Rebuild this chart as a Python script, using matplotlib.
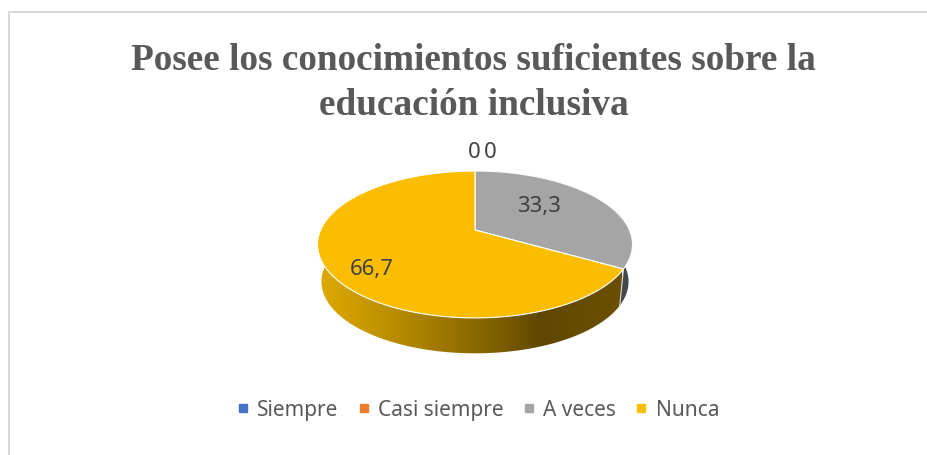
import numpy as np
import matplotlib
matplotlib.use("Agg")
import matplotlib.pyplot as plt
from matplotlib.colors import LinearSegmentedColormap
from matplotlib.lines import Line2D
from matplotlib.patches import Polygon

titulo = "Posee los conocimientos suficientes sobre la\neducación inclusiva"
categorias = ["Siempre", "Casi siempre", "A veces", "Nunca"]
valores = [0, 0, 33.3, 66.7]
colores = ["#4472C4", "#ED7D31", "#A5A5A5", "#FBBD00"]
# lateral del pastel, de izquierda a derecha
lateral_nunca = [(0, "#DDA900"), (0.27, "#B58A00"), (0.6, "#7C5E00"), (0.73, "#5F4700"), (1, "#6B5000")]
lateral_aveces = "#43464B"

# geometria en pixeles de la imagen
cx, cy = 475, 231
ancho, alto, persp = 154.4, 70.6, 0.197
caida, escala = 37.6, 0.975


def borde(theta, abajo=False):
    # theta en grados, sentido horario desde arriba
    t = np.radians(theta)
    d = 1 + persp * np.cos(t)
    x = ancho * np.sin(t) / d
    y = -alto * np.cos(t) / d
    if abajo:
        return cx + escala * x, cy + escala * y + caida
    return cx + x, cy + y


fig = plt.figure(figsize=(9.27, 4.56), dpi=100)
ax = fig.add_axes([0, 0, 1, 1])
ax.axis("off")

limites = np.cumsum([0] + valores) / sum(valores) * 360
ini_nunca, fin_nunca = limites[3], limites[4]

# paredes laterales
arco = np.linspace(ini_nunca, fin_nunca, 200)
xa, ya = borde(arco)
xb, yb = borde(arco, abajo=True)
pared = Polygon(np.r_[np.c_[xa, ya], np.c_[xb, yb][::-1]], closed=True, fc="none", ec="none")
ax.add_patch(pared)
mapa = LinearSegmentedColormap.from_list("lateral", lateral_nunca)
img = ax.imshow(np.linspace(0, 1, 400)[None, :], cmap=mapa, aspect="auto",
                extent=(320, 622, 360, 240), zorder=1)
img.set_clip_path(pared)

arco = np.linspace(limites[2], limites[3], 60)
xa, ya = borde(arco)
xb, yb = borde(arco, abajo=True)
ax.fill(np.r_[xa, xb[::-1]], np.r_[ya, yb[::-1]], color=lateral_aveces, lw=0, zorder=1.5)
x0, y0 = borde(ini_nunca)
x1, y1 = borde(ini_nunca, abajo=True)
ax.plot([x0, x1], [y0, y1], color="#D9D9D9", lw=0.8, zorder=1.6)

# cara superior
for i, color in enumerate(colores):
    if valores[i] == 0:
        continue
    arco = np.linspace(limites[i], limites[i + 1], 200)
    xa, ya = borde(arco)
    ax.fill(np.r_[cx, xa], np.r_[cy, ya], fc=color, ec="white", lw=0.8, zorder=2)

# etiquetas de datos
etiquetas = [(474, 153), (490, 153), (539, 207), (372, 270)]
for v, (ex, ey) in zip(valores, etiquetas):
    ax.text(ex, ey, f"{v:g}".replace(".", ","), ha="center", va="center",
            fontsize=16, color="#404040", family="Noto Sans", zorder=3)

ax.text(473.5, 83, titulo, ha="center", va="center", fontsize=26.8, fontweight="bold",
        family="Liberation Serif", color="#595959", linespacing=1.4)

# borde del grafico, solo arriba e izquierda
ax.plot([9, 9, 927], [456, 13, 13], color="#D9D9D9", lw=1.5, zorder=0)

marcas = [Line2D([], [], ls="", marker="s", ms=5.5, color=c) for c in colores]
ax.legend(marcas, categorias, loc="center", bbox_to_anchor=(478, 411),
          bbox_transform=ax.transData, ncols=4, frameon=False, handlelength=0.6,
          handletextpad=0.4, columnspacing=0.9,
          prop={"family": "Noto Sans", "size": 15}, labelcolor="#595959")

ax.set_xlim(0, 927)
ax.set_ylim(456, 0)
fig.savefig("out.png", dpi=100)
